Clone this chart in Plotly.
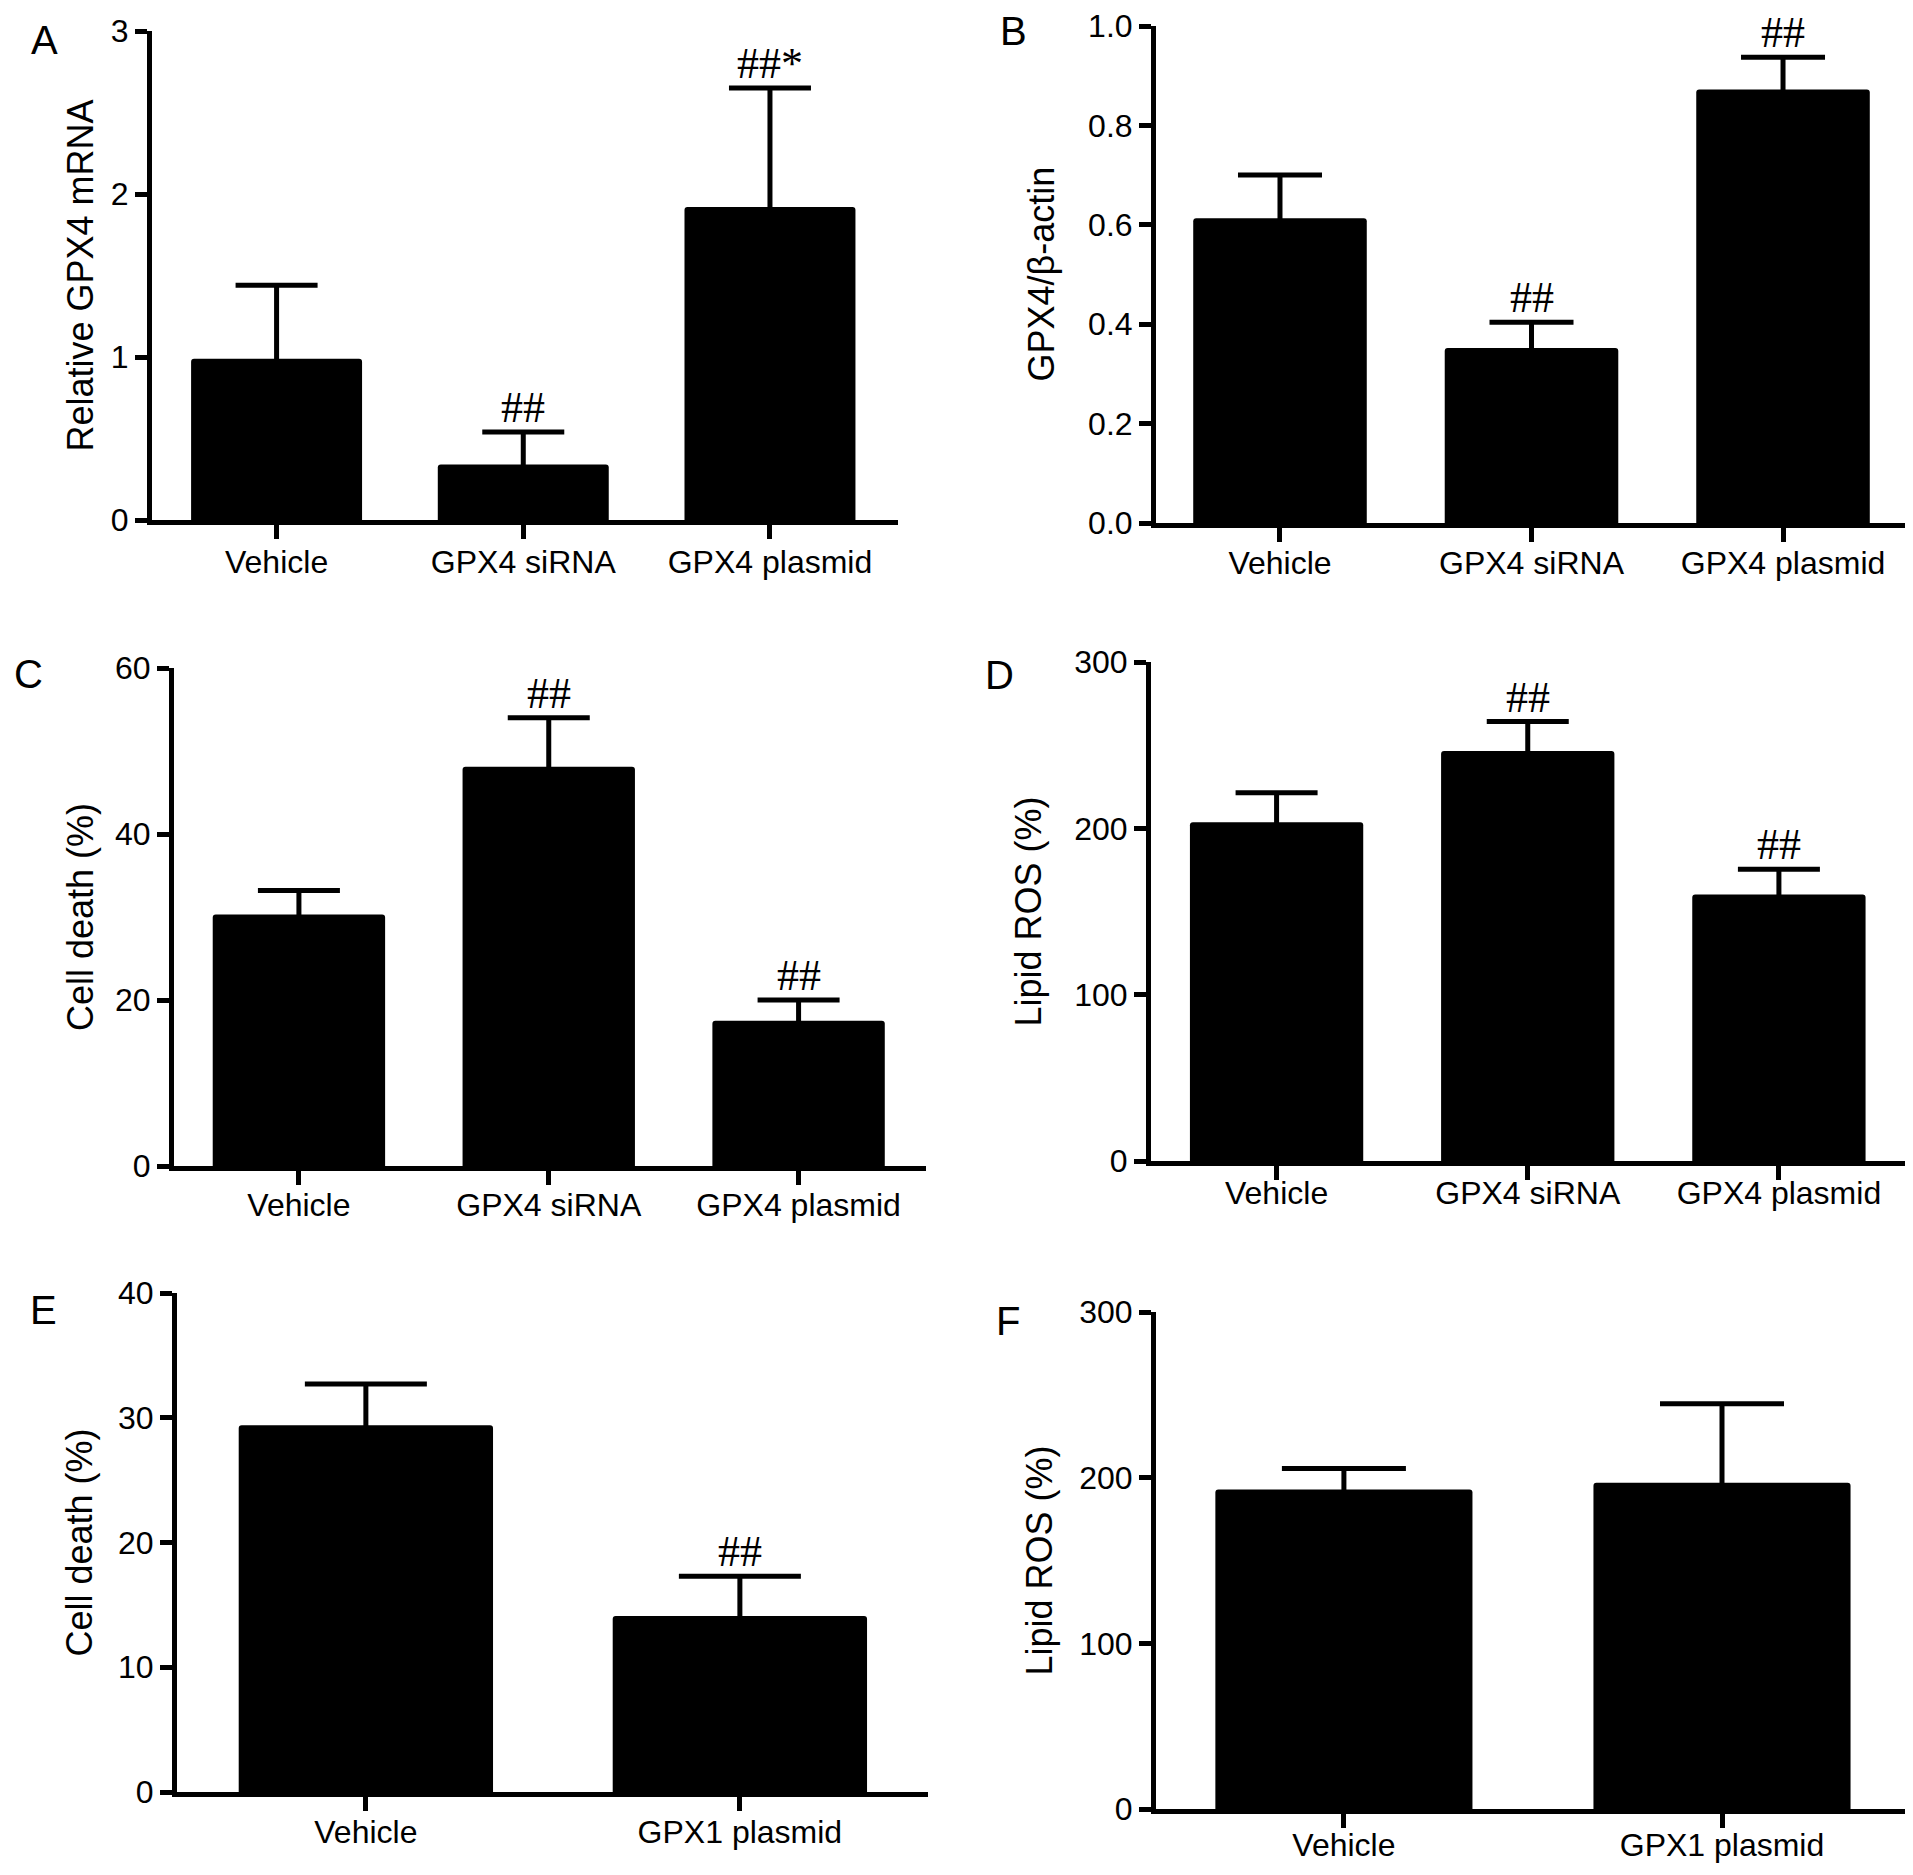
import plotly.graph_objects as go

# ---------------- data ----------------
cats3 = ["Vehicle", "GPX4 siRNA", "GPX4 plasmid"]
cats2 = ["Vehicle", "GPX1 plasmid"]

a_mean = [0.99, 0.34, 1.92]
a_err = [0.45, 0.20, 0.73]
a_sig = ["", "##", "##*"]

b_mean = [0.613, 0.352, 0.872]
b_err = [0.087, 0.052, 0.065]
b_sig = ["", "##", "##"]

c_mean = [30.3, 48.1, 17.5]
c_err = [2.9, 5.9, 2.5]
c_sig = ["", "##", "##"]

d_mean = [203.7, 246.5, 160.2]
d_err = [17.7, 17.7, 15.2]
d_sig = ["", "##", "##"]

e_mean = [29.4, 14.1]
e_err = [3.3, 3.2]
e_sig = ["", "##"]

f_mean = [192.8, 196.9]
f_err = [12.7, 47.7]
f_sig = ["", ""]

ytitles = ["Relative GPX4 mRNA", "GPX4/β-actin", "Cell death (%)",
           "Lipid ROS (%)", "Cell death (%)", "Lipid ROS (%)"]
letters = ["A", "B", "C", "D", "E", "F"]
ytick_vals = [[0, 1, 2, 3], [0, 0.2, 0.4, 0.6, 0.8, 1.0], [0, 20, 40, 60],
              [0, 100, 200, 300], [0, 10, 20, 30, 40], [0, 100, 200, 300]]
ytick_text = [["0", "1", "2", "3"], ["0.0", "0.2", "0.4", "0.6", "0.8", "1.0"],
              ["0", "20", "40", "60"], ["0", "100", "200", "300"],
              ["0", "10", "20", "30", "40"], ["0", "100", "200", "300"]]

# ---------------- layout geometry (screen pixels) ----------------
W, H = 1913, 1875
OFF = 8  # page body margin in the browser
FONT = "Liberation Sans, Arial, Helvetica, sans-serif"
SERIF = "Liberation Serif, Times New Roman, serif"


def px_x(v):
    return (v - OFF) / W


def px_y(v):
    return 1 - (v - OFF) / H


panels = [
    dict(cats=cats3, mean=a_mean, err=a_err, sig=a_sig, xl=152, xr=898, yt=31, yz=520,
         xrange=[-0.505, 2.519], bw=0.693, cap=41, ymax=3, tx=80, lxy=(44, 40), ls=-4),
    dict(cats=cats3, mean=b_mean, err=b_err, sig=b_sig, xl=1156, xr=1905, yt=26, yz=523,
         xrange=[-0.493, 2.485], bw=0.69, cap=42, ymax=1.0, tx=1041, lxy=(1013, 31), ls=-6),
    dict(cats=cats3, mean=c_mean, err=c_err, sig=c_sig, xl=174, xr=926, yt=668, yz=1166,
         xrange=[-0.5, 2.51], bw=0.69, cap=41, ymax=60, tx=80, lxy=(28, 674), ls=-7),
    dict(cats=cats3, mean=d_mean, err=d_err, sig=d_sig, xl=1151, xr=1906, yt=662, yz=1161,
         xrange=[-0.5, 2.506], bw=0.69, cap=41, ymax=300, tx=1028, lxy=(999, 675), ls=-14),
    dict(cats=cats2, mean=e_mean, err=e_err, sig=e_sig, xl=177, xr=928, yt=1293, yz=1792,
         xrange=[-0.505, 1.503], bw=0.68, cap=61, ymax=40, tx=79, lxy=(43, 1310), ls=-6),
    dict(cats=cats2, mean=f_mean, err=f_err, sig=f_sig, xl=1156, xr=1905, yt=1312, yz=1809,
         xrange=[-0.497, 1.484], bw=0.68, cap=62, ymax=300, tx=1039, lxy=(1008, 1321), ls=-10),
]

fig = go.Figure()
annotations = []
layout = dict(
    width=W, height=H,
    margin=dict(l=0, r=0, t=0, b=0, pad=0, autoexpand=False),
    paper_bgcolor="white", plot_bgcolor="white",
    showlegend=False,
    font=dict(family=FONT, color="black"),
)

for i, p in enumerate(panels):
    n = i + 1
    xa = "x" if n == 1 else f"x{n}"
    ya = "y" if n == 1 else f"y{n}"
    # symmetric error bars: the lower half lies inside the black bar (invisible)
    fig.add_trace(go.Bar(
        x=p["cats"], y=p["mean"], width=p["bw"],
        marker=dict(color="black", line=dict(width=0), cornerradius=3),
        error_y=dict(type="data", array=p["err"], symmetric=True,
                     color="black", thickness=5, width=p["cap"]),
        xaxis=xa, yaxis=ya, hoverinfo="skip",
    ))
    layout[f"xaxis{n}" if n > 1 else "xaxis"] = dict(
        domain=[px_x(p["xl"]), px_x(p["xr"])], anchor=ya, type="category",
        range=p["xrange"], showline=True, linecolor="black", linewidth=5,
        ticks="outside", ticklen=14, tickwidth=5, tickcolor="black",
        tickfont=dict(family=FONT, size=32, color="black"),
        ticklabelstandoff=p["ls"], automargin=False,
        showgrid=False, zeroline=False, fixedrange=True,
    )
    layout[f"yaxis{n}" if n > 1 else "yaxis"] = dict(
        domain=[px_y(p["yz"]), px_y(p["yt"])], anchor=xa,
        range=[0, p["ymax"]], showline=True, linecolor="black", linewidth=5,
        ticks="outside", ticklen=12, tickwidth=5, tickcolor="black",
        tickvals=ytick_vals[i], ticktext=ytick_text[i],
        tickfont=dict(family=FONT, size=32, color="black"),
        automargin=False,
        showgrid=False, zeroline=False, fixedrange=True,
    )
    # y-axis title
    annotations.append(dict(
        text=ytitles[i], xref="paper", yref="paper",
        x=px_x(p["tx"]), y=px_y((p["yt"] + p["yz"]) / 2),
        xanchor="center", yanchor="middle", textangle=-90, showarrow=False,
        font=dict(family=FONT, size=36, color="black"),
    ))
    # panel letter
    annotations.append(dict(
        text=letters[i], xref="paper", yref="paper",
        x=px_x(p["lxy"][0]), y=px_y(p["lxy"][1]),
        xanchor="center", yanchor="middle", showarrow=False,
        font=dict(family=FONT, size=40, color="black"),
    ))
    # significance marks
    for c, m, e, s in zip(p["cats"], p["mean"], p["err"], p["sig"]):
        if s:
            annotations.append(dict(
                text=s, xref=xa, yref=ya, x=c, y=m + e,
                xanchor="center", yanchor="bottom", showarrow=False, yshift=-2,
                font=dict(family=SERIF, size=44, color="black"),
            ))

layout["annotations"] = annotations
fig.update_layout(**layout)
fig.write_html("out.html")
